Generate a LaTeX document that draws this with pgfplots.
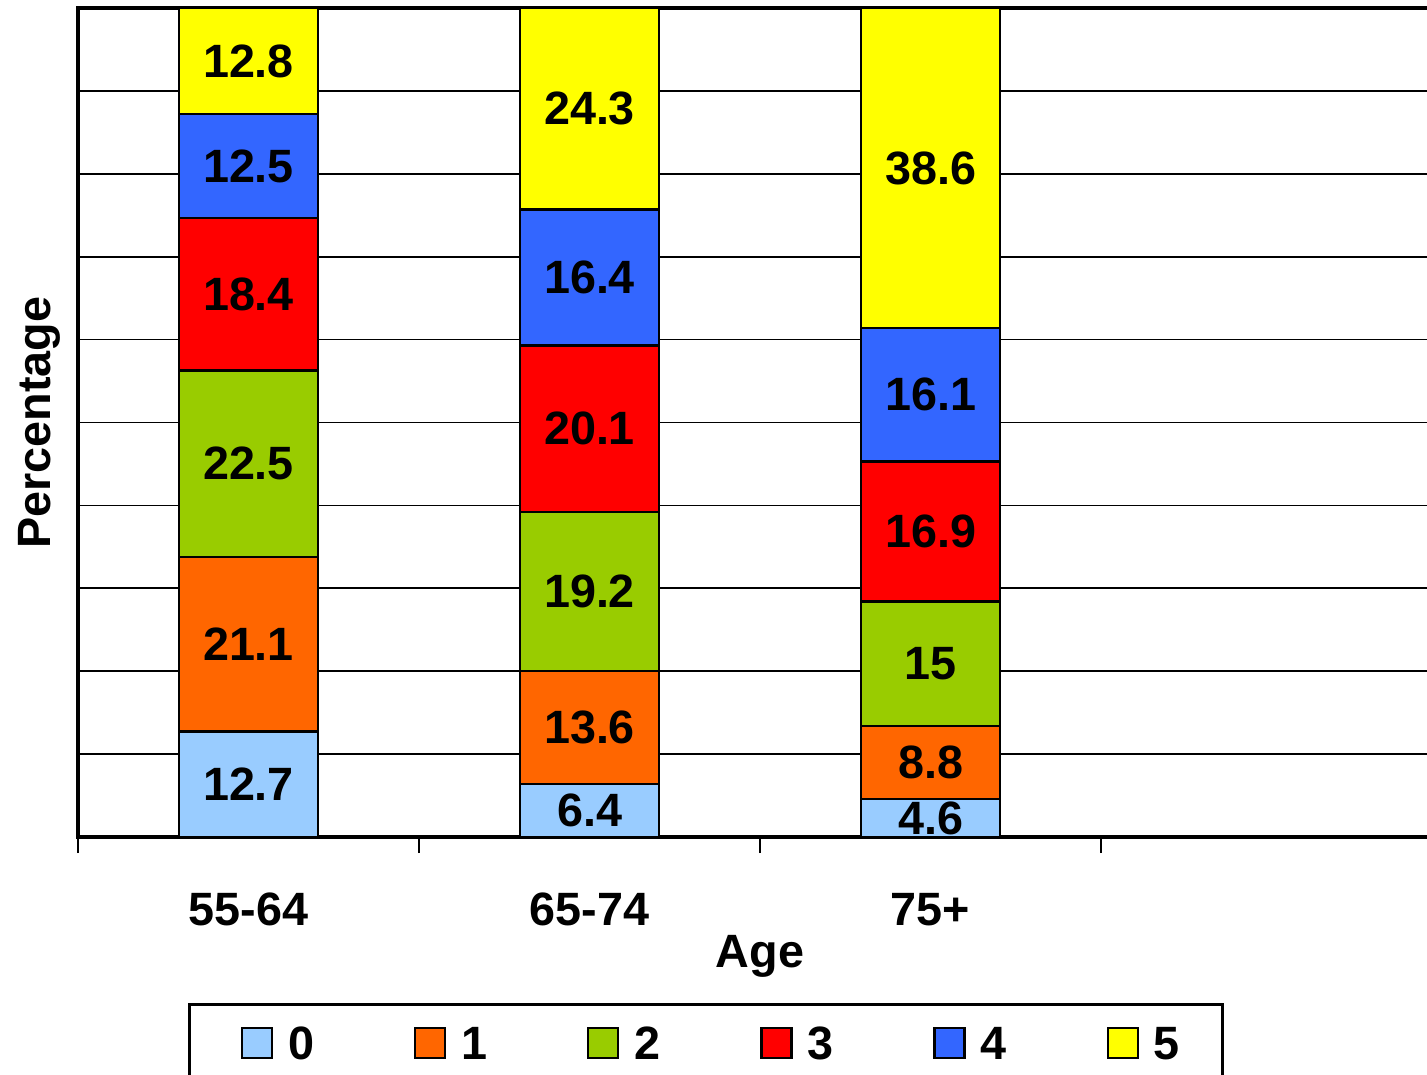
\documentclass[border=0pt]{standalone}
\usepackage{pgfplots}
\pgfplotsset{compat=1.18}
\usepackage{fontspec}
\setmainfont{Liberation Sans}

\definecolor{c0}{HTML}{99CCFF}
\definecolor{c1}{HTML}{FF6600}
\definecolor{c2}{HTML}{99CC00}
\definecolor{c3}{HTML}{FF0000}
\definecolor{c4}{HTML}{3366FF}
\definecolor{c5}{HTML}{FFFF00}

\newcommand\lbl{\fontsize{13.3}{16}\selectfont\bfseries}

% age group, score 0..5 (percent)
\pgfplotstableread{
x  s0   s1   s2   s3   s4   s5
0  12.7 21.1 22.5 18.4 12.5 12.8
1  6.4  13.6 19.2 20.1 16.4 24.3
2  4.6  8.8  15   16.9 16.1 38.6
}\agedata

\begin{document}
\begin{tikzpicture}
\useasboundingbox (0,0) rectangle (14.27,10.74);
\clip (0,0) rectangle (14.27,10.74);
\begin{axis}[
  at={(0.78cm,2.37cm)}, anchor=south west,
  scale only axis,
  width=13.64cm, height=8.29cm,
  ybar stacked,
  bar width=1.39cm,
  xmin=-0.5, xmax=3.5,
  ymin=0, ymax=100,
  xtick={0,1,2},
  xticklabels={55-64,65-74,75+},
  ytick={0,10,...,100},
  yticklabels={},
  major tick length=0pt,
  tick pos=left,
  tick align=outside,
  extra x ticks={-0.5,0.5,1.5,2.5,3.5},
  extra x tick labels={},
  extra x tick style={major tick length=0.16cm, tick style={black, line width=0.8pt}},
  ymajorgrids,
  grid style={black, line width=0.5pt},
  axis line style={black, line width=1pt},
  ticklabel style={font=\lbl},
  xticklabel style={anchor=base, yshift=-0.88cm},
  xlabel={Age},
  ylabel={Percentage},
  every axis x label/.style={at={([yshift=-1.30cm]axis description cs:0.5,0)}, anchor=base, font=\lbl},
  every axis y label/.style={at={([xshift=-0.28cm]axis description cs:0,0.5)}, rotate=90, anchor=base, font=\lbl},
  every axis plot/.append style={draw=black, line width=0.7pt},
  /pgf/number format/assume math mode=true,
  nodes near coords,
  every node near coord/.style={anchor=center, font=\lbl, text=black},
  legend columns=6,
  legend image code/.code={%
    \path[draw=none, fill=none] (-0.25cm,0) -- (0cm,0);
    \draw[#1, draw=black, line width=0.6pt] (0cm,-0.15cm) rectangle (0.3cm,0.15cm);},
  legend style={
    at={(0.4604,-0.2002)}, anchor=north,
    draw=black, line width=0.8pt,
    inner xsep=0.28cm, inner ysep=0.175cm,
    font=\lbl,
    nodes={inner xsep=0.15cm, inner ysep=0.05cm, text depth=0pt},
    /tikz/every even column/.append style={column sep=0.61cm},
  },
]
\addplot[fill=c0] table[x=x, y=s0] {\agedata};
\addplot[fill=c1] table[x=x, y=s1] {\agedata};
\addplot[fill=c2] table[x=x, y=s2] {\agedata};
\addplot[fill=c3] table[x=x, y=s3] {\agedata};
\addplot[fill=c4] table[x=x, y=s4] {\agedata};
\addplot[fill=c5] table[x=x, y=s5] {\agedata};
\legend{0,1,2,3,4,5}
\end{axis}
\end{tikzpicture}
\end{document}
